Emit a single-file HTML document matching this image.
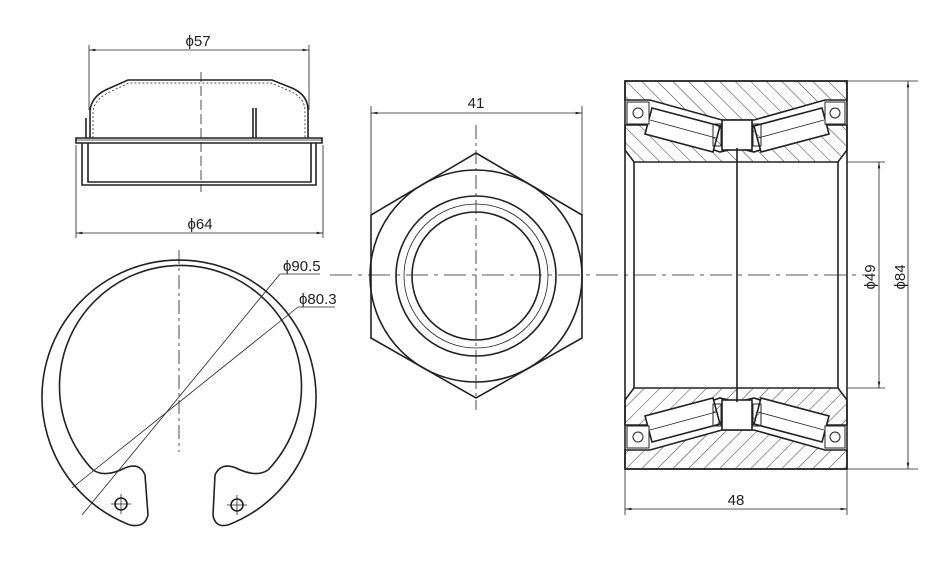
<!DOCTYPE html>
<html><head><meta charset="utf-8"><style>
html,body{margin:0;padding:0;background:#fff;}
svg{display:block;}
text{font-family:"Liberation Sans",sans-serif;fill:#222;}
</style></head><body>
<svg width="952" height="561" viewBox="0 0 952 561" xmlns="http://www.w3.org/2000/svg">
<defs>
<pattern id="h" patternUnits="userSpaceOnUse" width="11" height="11" patternTransform="rotate(-45)">
<line x1="0" y1="0" x2="0" y2="11" stroke="#222" stroke-width="0.9"/>
</pattern>
<pattern id="h2" patternUnits="userSpaceOnUse" width="11" height="11" patternTransform="rotate(45)">
<line x1="0" y1="0" x2="0" y2="11" stroke="#222" stroke-width="0.9"/>
</pattern>
<marker id="a" viewBox="0 0 10 10" refX="10" refY="5" markerWidth="8" markerHeight="8" orient="auto-start-reverse">
<path d="M0,3 L10,5 L0,7 z" fill="#222"/>
</marker>
</defs>
<g fill="none" stroke="#222" stroke-width="1.6">

<!-- CAP -->
<line x1="89" y1="45" x2="89" y2="110" stroke-width="0.8"/>
<line x1="309" y1="45" x2="309" y2="110" stroke-width="0.8"/>
<line x1="89" y1="50" x2="309" y2="50" stroke-width="0.8" marker-start="url(#a)" marker-end="url(#a)"/>
<path d="M90,138 L90,110 Q92,95 110,88 L128,80 L272,80 L292,88 Q308,95 308,110 L308,138"/>
<path d="M93,138 L93,111 Q95,98 112,91 L129,83 L271,83 L290,91 Q305,98 305,111 L305,138" stroke-width="0.8" stroke-dasharray="2,2"/>
<line x1="86" y1="118" x2="86" y2="138"/>
<path d="M76,143 L76,138 L322,138 L322,143 Z"/>
<line x1="76" y1="140" x2="322" y2="140" stroke-width="0.8"/>
<path d="M82,143 L82,185 L316,185 L316,143"/>
<path d="M88,143 L88,182 L311,182 L311,143"/>
<line x1="253" y1="108" x2="253" y2="138"/><line x1="256" y1="108" x2="256" y2="138"/>
<line x1="201" y1="72" x2="201" y2="192" stroke-width="0.8" stroke-dasharray="10,4"/>
<line x1="76" y1="145" x2="76" y2="238" stroke-width="0.8"/>
<line x1="323" y1="145" x2="323" y2="238" stroke-width="0.8"/>
<line x1="76" y1="233" x2="323" y2="233" stroke-width="0.8" marker-start="url(#a)" marker-end="url(#a)"/>

<!-- CIRCLIP -->
<path d="M130,525 A137,137 0 1 1 228,525"/>
<path d="M93,470 A121,121 0 1 1 268,470"/>
<path d="M93,470 Q105,478 125,468 Q140,462 145,475 L148,515 Q145,528 130,525"/>
<path d="M268,470 Q256,478 236,468 Q221,462 215,475 L213,515 Q215,528 228,525"/>
<circle cx="121" cy="504" r="6"/><circle cx="237" cy="505" r="6"/>
<g stroke-width="0.8"><line x1="111" y1="504" x2="131" y2="504"/><line x1="121" y1="494" x2="121" y2="514"/>
<line x1="227" y1="505" x2="247" y2="505"/><line x1="237" y1="495" x2="237" y2="515"/></g>
<line x1="179" y1="250" x2="179" y2="452" stroke-width="0.8" stroke-dasharray="14,4,3,4"/>
<line x1="82" y1="515" x2="280" y2="274" stroke-width="0.8"/><line x1="280" y1="274" x2="320" y2="274" stroke-width="0.8"/>
<line x1="72" y1="488" x2="298" y2="307" stroke-width="0.8"/><line x1="298" y1="307" x2="335" y2="307" stroke-width="0.8"/>

<!-- HEX -->
<polygon points="476,153 582,215 582,338 476,398 371,338 371,215"/>
<circle cx="476" cy="276" r="106"/>
<circle cx="476" cy="276" r="80"/>
<circle cx="476" cy="276" r="72" stroke-width="0.8"/>
<circle cx="476" cy="276" r="64"/>
<line x1="371" y1="106" x2="371" y2="215" stroke-width="0.8"/>
<line x1="582" y1="106" x2="582" y2="215" stroke-width="0.8"/>
<line x1="371" y1="113" x2="582" y2="113" stroke-width="0.8" marker-start="url(#a)" marker-end="url(#a)"/>
<line x1="476" y1="125" x2="476" y2="410" stroke-width="0.8" stroke-dasharray="14,4,3,4"/>
<line x1="330" y1="275" x2="870" y2="275" stroke-width="0.8" stroke-dasharray="22,6,4,6"/>

<!-- BEARING -->
<g id="half">
<path d="M625,81 L847,81 L847,100 L825,100 L754,120 L722,120 L650,100 L625,100 Z" fill="url(#h)"/>
<path d="M625,125 L650,125 L655,130 L720,152 L737,148 L754,152 L820,130 L825,125 L847,125 L847,150 L838,162 L634,162 L625,150 Z" fill="url(#h)"/>
<polygon points="652,108 720,126 713,152 645,134" fill="#fff"/>
<line x1="650" y1="120" x2="716" y2="138" stroke-width="0.8"/>
<polygon points="822,108 754,126 761,152 829,134" fill="#fff"/>
<line x1="824" y1="120" x2="758" y2="138" stroke-width="0.8"/>
<rect x="722" y="120" width="30" height="30" fill="#fff"/>
<rect x="627" y="102" width="22" height="22" fill="#fff" stroke-width="1"/>
<circle cx="638" cy="113" r="5" stroke-width="1"/>
<rect x="825" y="102" width="20" height="22" fill="#fff" stroke-width="1"/>
<circle cx="835" cy="113" r="5" stroke-width="1"/>
<rect x="713" y="124" width="8" height="22" fill="url(#h)" stroke-width="1"/>
<rect x="753" y="124" width="8" height="22" fill="url(#h)" stroke-width="1"/>
</g>
<use href="#half" transform="translate(0,550) scale(1,-1)"/>
<rect x="625" y="81" width="222" height="388"/>
<line x1="634" y1="162" x2="634" y2="388"/>
<line x1="838" y1="162" x2="838" y2="388"/>
<line x1="737" y1="148" x2="737" y2="402"/>

<g stroke-width="0.8">
<line x1="847" y1="81" x2="918" y2="81"/><line x1="847" y1="469" x2="918" y2="469"/>
<line x1="908" y1="81" x2="908" y2="469" marker-start="url(#a)" marker-end="url(#a)"/>
<line x1="847" y1="162" x2="885" y2="162"/><line x1="847" y1="388" x2="885" y2="388"/>
<line x1="879" y1="162" x2="879" y2="388" marker-start="url(#a)" marker-end="url(#a)"/>
<line x1="625" y1="470" x2="625" y2="515"/><line x1="847" y1="470" x2="847" y2="515"/>
<line x1="625" y1="509" x2="847" y2="509" marker-start="url(#a)" marker-end="url(#a)"/>
</g>
</g>

<g font-size="15">
<text x="198" y="46" text-anchor="middle">ϕ57</text>
<text x="200" y="229" text-anchor="middle">ϕ64</text>
<text x="283" y="271">ϕ90.5</text>
<text x="299" y="304">ϕ80.3</text>
<text x="476" y="108" text-anchor="middle">41</text>
<text x="736" y="505" text-anchor="middle">48</text>
<text transform="translate(875,277) rotate(-90)" text-anchor="middle">ϕ49</text>
<text transform="translate(905,277) rotate(-90)" text-anchor="middle">ϕ84</text>
</g>
</svg>
</body></html>
